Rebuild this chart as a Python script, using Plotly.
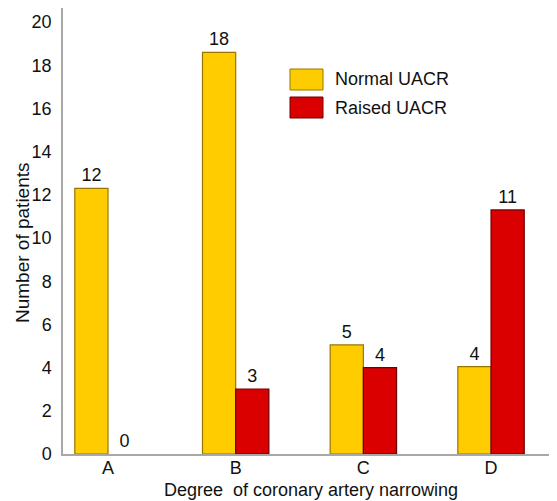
import plotly.graph_objects as go

categories = ["A", "B", "C", "D"]
normal_uacr = [12.3, 18.6, 5.05, 4.05]
raised_uacr = [0, 3, 4, 11.3]
normal_labels = ["12", "18", "5", "4"]
raised_labels = ["0", "3", "4", "11"]
y_ticks = [0, 2, 4, 6, 8, 10, 12, 14, 16, 18, 20]
x_title = "Degree  of coronary artery narrowing"
y_title = "Number of patients"

xpos = list(range(len(categories)))
FONT = "Liberation Sans, Arial, sans-serif"
FS = 18
YELLOW = "#FFCC00"
RED = "#DA0000"

# the page body has an 8px margin; work in screen pixels and shift
OFF = 8
W, H = 557 - OFF, 501 - OFF
# plot area in screen pixels
L, R, T, B = 63, 555, 8, 454
def px(x):
    return (x - L) / (R - L)
def py(y):
    return (B - y) / (B - T)

fig = go.Figure()
fig.add_trace(go.Bar(
    x=xpos, y=normal_uacr, name="Normal UACR", width=0.26, offset=-0.26,
    marker=dict(color=YELLOW, line=dict(color="#9A7400", width=1.2)),
    text=normal_labels, textposition="outside", cliponaxis=False,
    textfont=dict(size=FS, color="#111", family=FONT),
))
fig.add_trace(go.Bar(
    x=xpos, y=raised_uacr, name="Raised UACR", width=0.26, offset=0,
    marker=dict(color=RED, line=dict(color="#6E0000",
                                     width=[0 if v == 0 else 1.2 for v in raised_uacr])),
    text=raised_labels, textposition="outside", cliponaxis=False,
    textfont=dict(size=FS, color="#111", family=FONT),
))

legend_items = [("Normal UACR", YELLOW, "#9A7400"), ("Raised UACR", RED, "#6E0000")]
shapes = []
annotations = []
for i, (name, col, edge) in enumerate(legend_items):
    top = 69 + i * 28
    bot = 90 + i * 28
    shapes.append(dict(type="rect", xref="paper", yref="paper",
                       x0=px(290), x1=px(323), y0=py(bot), y1=py(top),
                       fillcolor=col, line=dict(color=edge, width=1)))
    annotations.append(dict(xref="paper", yref="paper",
                            x=px(333), y=py((top + bot) / 2),
                            text=name, showarrow=False, xanchor="left",
                            yanchor="middle",
                            font=dict(size=FS, color="#111", family=FONT)))

annotations.append(dict(xref="paper", yref="paper", x=px(311), y=py(490),
                        text=x_title, showarrow=False, xanchor="center",
                        yanchor="middle",
                        font=dict(size=FS, color="#111", family=FONT)))
annotations.append(dict(xref="paper", yref="paper", x=px(22), y=py(243),
                        text=y_title, showarrow=False, textangle=-90,
                        xanchor="center", yanchor="middle",
                        font=dict(size=FS + 1, color="#111", family=FONT)))

fig.update_layout(
    width=W, height=H,
    margin=dict(l=L - OFF, r=557 - R, t=T - OFF, b=501 - B, autoexpand=False),
    paper_bgcolor="white", plot_bgcolor="white",
    barmode="overlay", showlegend=False,
    font=dict(family=FONT, size=FS, color="#111"),
    shapes=shapes, annotations=annotations,
    xaxis=dict(
        range=[-0.3525, 3.501], tickvals=xpos, ticktext=categories,
        showgrid=False, zeroline=False, showline=True, automargin=False,
        linecolor="#A8A8A8", linewidth=1.5, ticks="",
        ticklabelstandoff=-3,
        tickfont=dict(size=FS, family=FONT, color="#111"),
    ),
    yaxis=dict(
        range=[0, 20.65], tickvals=y_ticks,
        showgrid=False, zeroline=False, showline=True, automargin=False,
        linecolor="#A8A8A8", linewidth=1.5, ticks="",
        ticklabelstandoff=6,
        tickfont=dict(size=FS, family=FONT, color="#111"),
    ),
)

fig.write_html("out.html")
